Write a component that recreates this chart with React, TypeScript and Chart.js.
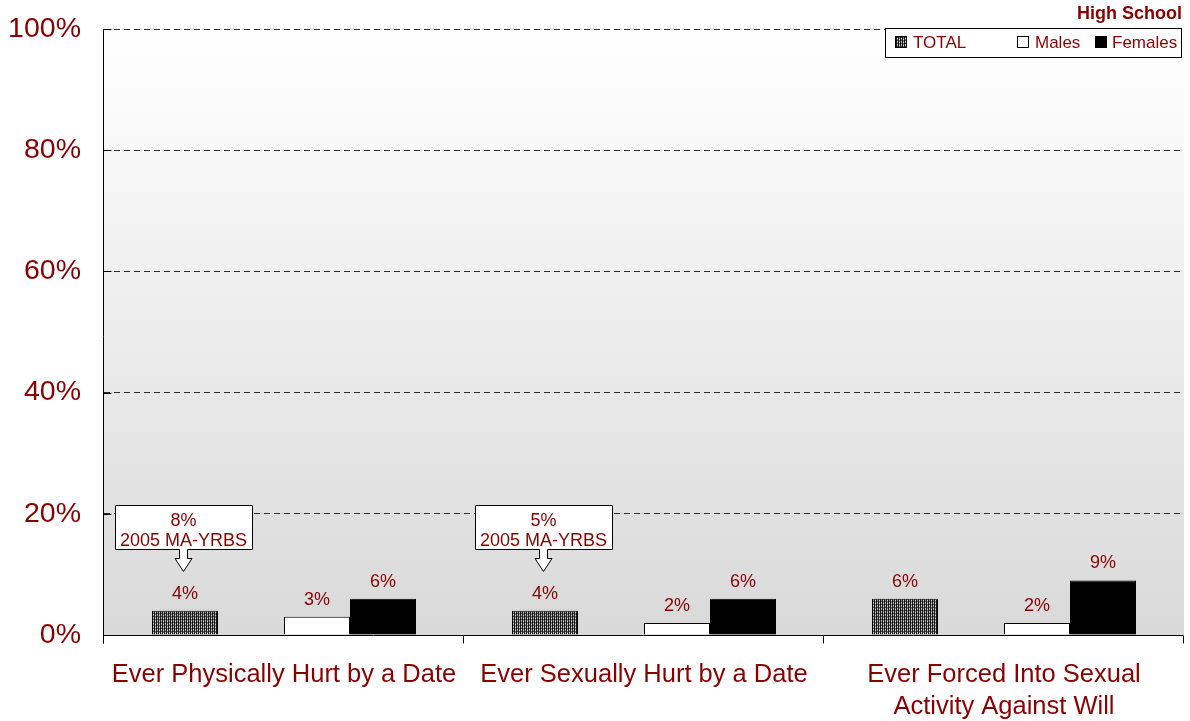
import React, { useEffect, useRef } from "react";
import { Chart, registerables } from "chart.js";

Chart.register(...registerables);

const categories: (string | string[])[] = [
  "Ever Physically Hurt by a Date",
  "Ever Sexually Hurt by a Date",
  ["Ever Forced Into Sexual", "Activity Against Will"],
];
const totalValues = [4, 4, 6];
const maleValues = [3, 2, 2];
const femaleValues = [6, 6, 9];
const maYrbsValues: (number | null)[] = [8, 5, null];
const maYrbsLabel = "2005 MA-YRBS";
const legendLabels = ["TOTAL", "Males", "Females"];
const chartTitle = "High School";
const yTickValues = [0, 20, 40, 60, 80, 100];

const FONT = "'Liberation Sans', Arial, Helvetica, sans-serif";
const RED = "#8B0000";

function makePattern(): CanvasPattern | string {
  const c = document.createElement("canvas");
  c.width = 4;
  c.height = 3;
  const g = c.getContext("2d");
  if (!g) return "#333";
  const rows = [
    ["#1a1a1a", "#9a9a9a", "#1a1a1a", "#d8d8d8"],
    ["#111111", "#4a4a4a", "#111111", "#707070"],
    ["#1a1a1a", "#c8c8c8", "#1a1a1a", "#8a8a8a"],
  ];
  rows.forEach((r, y) =>
    r.forEach((col, x) => {
      g.fillStyle = col;
      g.fillRect(x, y, 1, 1);
    })
  );
  const ctx = document.createElement("canvas").getContext("2d");
  return (ctx && ctx.createPattern(c, "repeat")) || "#333";
}

export default function App() {
  const ref = useRef<HTMLCanvasElement | null>(null);

  useEffect(() => {
    if (!ref.current) return;
    const pattern = makePattern();

    const decor = {
      id: "decor",
      beforeDraw(chart: any) {
        const { ctx, chartArea: a } = chart;
        const grad = ctx.createLinearGradient(0, a.top, 0, a.bottom);
        grad.addColorStop(0, "#ffffff");
        grad.addColorStop(1, "#d9d9d9");
        ctx.save();
        ctx.fillStyle = grad;
        ctx.fillRect(a.left, a.top, a.right - a.left, a.bottom - a.top);
        ctx.restore();
      },
      afterDatasetsDraw(chart: any) {
        const { ctx } = chart;
        ctx.save();
        ctx.font = `18px ${FONT}`;
        ctx.fillStyle = RED;
        ctx.textAlign = "center";
        ctx.textBaseline = "alphabetic";
        [0, 2, 3].forEach((di) => {
          const meta = chart.getDatasetMeta(di);
          const data = chart.data.datasets[di].data;
          meta.data.forEach((el: any, i: number) => {
            const v = data[i];
            if (v == null) return;
            ctx.fillText(`${v}%`, el.x, el.y - 12);
          });
        });
        const meta0 = chart.getDatasetMeta(0);
        maYrbsValues.forEach((v, i) => {
          if (v == null) return;
          const el: any = meta0.data[i];
          const cx = Math.round(el.x) - 1.5;
          const tip = Math.round(el.y - 40) + 0.5;
          const bottom = tip - 22;
          const top = bottom - 44;
          const left = cx - 68;
          const right = cx + 69;
          ctx.beginPath();
          ctx.moveTo(left, top);
          ctx.lineTo(right, top);
          ctx.lineTo(right, bottom);
          ctx.lineTo(cx + 4, bottom);
          ctx.lineTo(cx + 4, bottom + 9);
          ctx.lineTo(cx + 8.5, bottom + 9);
          ctx.lineTo(cx, tip);
          ctx.lineTo(cx - 8.5, bottom + 9);
          ctx.lineTo(cx - 4, bottom + 9);
          ctx.lineTo(cx - 4, bottom);
          ctx.lineTo(left, bottom);
          ctx.closePath();
          ctx.fillStyle = "#ffffff";
          ctx.fill();
          ctx.strokeStyle = "#000";
          ctx.lineWidth = 1;
          ctx.stroke();
          ctx.fillStyle = RED;
          ctx.font = `18px ${FONT}`;
          ctx.fillText(`${v}%`, cx, top + 20);
          ctx.fillText(maYrbsLabel, cx, top + 40);
        });
        ctx.restore();
      },
      afterDraw(chart: any) {
        const { ctx, chartArea: a } = chart;
        const xs = chart.scales.x;
        const ys = chart.scales.y;
        ctx.save();
        ctx.strokeStyle = "#000";
        ctx.lineWidth = 1;
        const L = Math.round(a.left) - 0.5;
        const B = Math.round(a.bottom) + 0.5;
        const R = Math.round(a.right) - 0.5;
        ctx.beginPath();
        ctx.moveTo(L, Math.round(a.top));
        ctx.lineTo(L, B + 8);
        ctx.moveTo(L, B);
        ctx.lineTo(R, B);
        yTickValues.forEach((t) => {
          const y = Math.round(ys.getPixelForValue(t)) + 0.5;
          ctx.moveTo(L, y);
          ctx.lineTo(L + 8, y);
        });
        const n = categories.length;
        for (let i = 0; i <= n; i++) {
          const x = Math.round(xs.getPixelForValue(i - 0.5)) - 0.5;
          ctx.moveTo(x, B);
          ctx.lineTo(x, B + 8);
        }
        ctx.stroke();

        const W = chart.width;
        ctx.font = `bold 18px ${FONT}`;
        ctx.fillStyle = RED;
        ctx.textAlign = "right";
        ctx.textBaseline = "alphabetic";
        ctx.fillText(chartTitle, W - 8, 19);

        const bx = W - 304.5;
        const by = 28.5;
        ctx.fillStyle = "#fff";
        ctx.fillRect(bx, by, 296, 29);
        ctx.strokeRect(bx, by, 296, 29);
        const swX = [W - 295, W - 173, W - 95];
        const txX = [W - 277, W - 155, W - 78];
        const fills: any[] = [pattern, "#ffffff", "#000000"];
        ctx.font = `17px ${FONT}`;
        ctx.textAlign = "left";
        legendLabels.forEach((lab, i) => {
          ctx.fillStyle = fills[i];
          ctx.fillRect(swX[i] + 0.5, 36.5, 11, 11);
          ctx.strokeRect(swX[i] + 0.5, 36.5, 11, 11);
          ctx.fillStyle = RED;
          ctx.fillText(lab, txX[i], 48);
        });
        ctx.restore();
      },
    };

    const chart = new Chart(ref.current, {
      type: "bar",
      data: {
        labels: categories,
        datasets: [
          {
            label: legendLabels[0],
            data: totalValues,
            backgroundColor: pattern as any,
            borderColor: "#000",
            borderWidth: 1,
          },
          {
            label: "",
            data: [null, null, null],
            backgroundColor: "transparent",
          },
          {
            label: legendLabels[1],
            data: maleValues,
            backgroundColor: "#ffffff",
            borderColor: "#000",
            borderWidth: 1,
          },
          {
            label: legendLabels[2],
            data: femaleValues,
            backgroundColor: "#000000",
            borderColor: "#000",
            borderWidth: 1,
          },
        ],
      },
      options: {
        responsive: false,
        animation: false,
        layout: { padding: { left: 0, right: 6, top: 29, bottom: 0 } },
        datasets: {
          bar: { categoryPercentage: 264 / 360, barPercentage: 1 },
        },
        plugins: {
          legend: { display: false },
          tooltip: { enabled: false },
          title: { display: false },
        },
        scales: {
          x: {
            grid: { display: false, drawTicks: false },
            border: { display: false },
            ticks: {
              color: RED,
              font: { family: FONT, size: 25.5, lineHeight: 1.25 },
              padding: 24,
              maxRotation: 0,
              autoSkip: false,
            },
            afterFit: (s: any) => {
              s.height = 86;
              s.paddingLeft = 0;
              s.paddingRight = 0;
            },
          },
          y: {
            min: 0,
            max: 100,
            grid: {
              color: "#2a2a2a",
              lineWidth: 1,
              drawTicks: false,
            },
            border: { display: false, dash: [6, 4] },
            ticks: {
              stepSize: 20,
              color: RED,
              font: { family: FONT, size: 28.5 },
              padding: 23,
              callback: (v: any) => `${v}%`,
            },
            afterFit: (s: any) => {
              s.width = 104;
              s.paddingTop = 0;
              s.paddingBottom = 0;
            },
          },
        },
      },
      plugins: [decor],
    });
    return () => chart.destroy();
  }, []);

  return (
    <div style={{ position: "fixed", left: 0, top: 0, width: 1190, height: 721, background: "#fff" }}>
      <canvas ref={ref} width={1190} height={721} style={{ display: "block" }} />
    </div>
  );
}
